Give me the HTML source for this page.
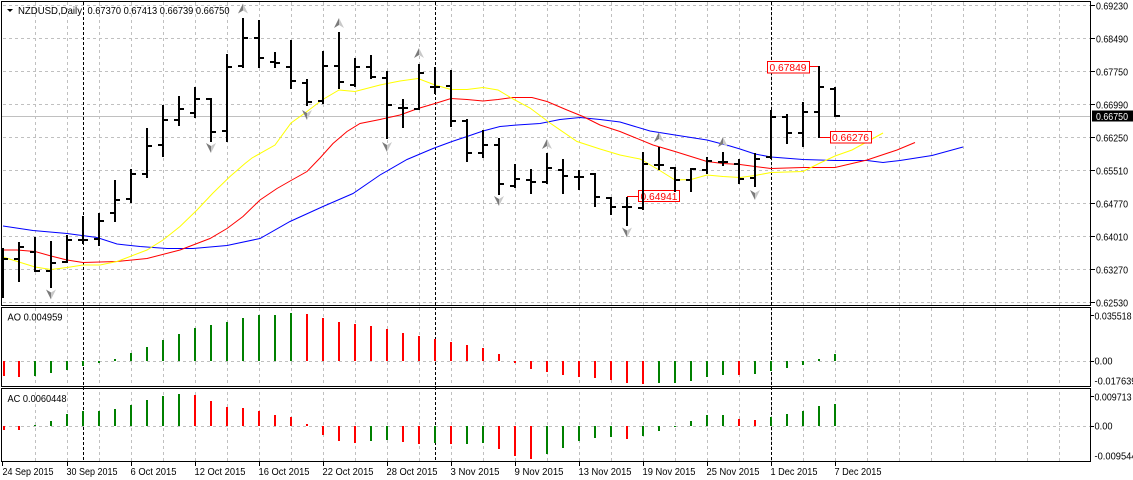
<!DOCTYPE html>
<html><head><meta charset="utf-8"><style>
html,body{margin:0;padding:0;background:#fff;width:1133px;height:480px;overflow:hidden}
svg{display:block}
text{font-family:"Liberation Sans",sans-serif;font-size:10.5px;fill:#000}
</style></head><body>
<svg width="1133" height="480" viewBox="0 0 1133 480" xmlns="http://www.w3.org/2000/svg">
<defs><clipPath id="cm"><rect x="2" y="2" width="1089" height="304"/></clipPath></defs>
<rect width="1133" height="480" fill="#fff"/>
<!-- horizontal grid main -->
<path stroke="#c0c0c0" stroke-width="1" stroke-dasharray="3,3" fill="none" d="M3 5.5H1090M3 38.5H1090M3 71.5H1090M3 104.5H1090M3 137.5H1090M3 170.5H1090M3 203.5H1090M3 236.5H1090M3 269.5H1090M3 302.5H1090M3 361.5H1090M3 426.5H1090"/>
<!-- vertical grid -->
<path stroke="#c0c0c0" stroke-width="1" stroke-dasharray="3,3" fill="none" d="M35.5 2V461M67.5 2V461M99.5 2V461M131.5 2V461M163.5 2V461M195.5 2V461M227.5 2V461M259.5 2V461M291.5 2V461M323.5 2V461M355.5 2V461M387.5 2V461M419.5 2V461M451.5 2V461M483.5 2V461M515.5 2V461M547.5 2V461M579.5 2V461M611.5 2V461M643.5 2V461M675.5 2V461M707.5 2V461M739.5 2V461M771.5 2V461M803.5 2V461M835.5 2V461M867.5 2V461M899.5 2V461M931.5 2V461M963.5 2V461M995.5 2V461M1027.5 2V461M1059.5 2V461"/>
<rect x="2" y="306" width="1089" height="2" fill="#fff"/>
<rect x="2" y="387" width="1089" height="2" fill="#fff"/>
<!-- separators -->
<path stroke="#000" stroke-width="1" stroke-dasharray="3,2" fill="none" d="M83.5 2V462M435.5 2V462M771.5 2V462"/>
<!-- current price line -->
<path stroke="#c0c0c0" stroke-width="1" d="M2 116.5H1091"/>
<g clip-path="url(#cm)">
<!-- MAs -->
<polyline fill="none" stroke="#0000ff" stroke-width="1" points="3,226 33,230.5 67,233.5 97,237.5 117,244 140,246.5 167,248.5 193,248.5 227,245.5 260,238.5 290,221.5 323,206.5 353,193.5 380,175 407,159.5 433,148.5 452,141.5 467,136.5 483,131 500,126.5 517,125 540,123.5 560,119.5 580,117.5 600,119.5 620,122 650,131 675,135 707,140 730,146 740,149 755,154 771,157 803,159.5 835,160.5 867,160.5 883,162.5 900,160.5 932,155.5 963,147"/>
<polyline fill="none" stroke="#ff0000" stroke-width="1" points="3,250 17,250 35,251.5 51,256 67,260 83,262.5 117,261.5 147,258.5 180,250 210,238.5 227,228.5 243,216.5 260,200 277,188.5 291,180.5 307,171.5 320,158 333,143.5 347,131.5 360,123.5 380,119.5 400,115 418,108.5 435,103.5 451,98.5 467,99.5 483,101 498,99.5 513,97.5 532,97.5 547,101.5 567,110 583,116.5 600,125 620,131.5 653,145 675,151.5 691,156.5 707,161.5 723,163.5 740,164.5 755,166.5 771,168.5 803,167.5 835,167.5 867,160 897,150 915,142.5"/>
<polyline fill="none" stroke="#ffff00" stroke-width="1" points="3,257 35,267 51,269.5 67,267.5 83,265 100,265 117,261.5 147,250 163,240 180,226.5 197,210 213,193 230,176.5 245,163.5 252,158 275,145 291,123 307,111.5 322,100 339,90 355,91.5 380,85 400,81 418,78.5 435,85 451,89.5 467,89.5 483,87.5 498,90 513,99 530,108 550,123 577,141.5 600,149 620,155 640,159 659,170 675,180 691,179.5 707,175 723,176.5 740,177.5 755,175.5 771,172.5 803,171.5 820,163 835,156 852,150 883,133"/>
<!-- price tags -->
<path stroke="#ff0000" stroke-width="1" d="M627 196.5H639M809 66.5H819M820 137.5H830"/>
<rect x="638.5" y="190.5" width="41" height="11" fill="#fff" stroke="#ff0000"/>
<text x="640.5" y="200" textLength="37" lengthAdjust="spacingAndGlyphs" style="fill:#ff0000">0.64941</text>
<rect x="767.5" y="61.5" width="42" height="11.5" fill="#fff" stroke="#ff0000"/>
<text x="769.5" y="71" textLength="37" lengthAdjust="spacingAndGlyphs" style="fill:#ff0000">0.67849</text>
<rect x="830.5" y="131.5" width="41" height="11.5" fill="#fff" stroke="#ff0000"/>
<text x="832" y="141" textLength="37" lengthAdjust="spacingAndGlyphs" style="fill:#ff0000">0.66276</text>
<!-- bars -->
<path fill="none" stroke="#000" stroke-width="2" d="M3 248V298M-2 255H4M2 259H8
M19 242V282M14 259H20M18 247H24
M35 237V272M30 252H36M34 271H40
M51 241V288M46 271H52M50 263H56
M67 235V263M62 262H68M66 240H72
M83 216V244M78 240H84M82 240H88
M99 213V246M94 239H100M98 221H104
M115 180V222M110 213H116M114 200H120
M131 169V203M126 199H132M130 174H136
M147 128V178M142 174H148M146 146H152
M163 105V157M158 145H164M162 120H168
M179 96V126M174 120H180M178 109H184
M195 87V118M190 113H196M194 99H200
M211 98V142M206 99H212M210 132H216
M227 54V142M222 131H228M226 67H232
M243 18V68M238 66H244M242 38H248
M259 20V68M254 38H260M258 58H264
M275 52V68M270 62H276M274 63H280
M291 40V89M286 67H292M290 81H296
M307 79V106M302 83H308M306 102H312
M323 51V104M318 101H324M322 66H328
M339 32V89M334 66H340M338 82H344
M355 58V87M350 85H356M354 67H360
M371 55V79M366 67H372M370 77H376
M387 71V139M382 78H388M386 105H392
M403 99V128M398 108H404M402 108H408
M419 64V110M414 109H420M418 73H424
M435 67V94M430 87H436M434 87H440
M451 70V127M446 86H452M450 121H456
M467 119V162M462 121H468M466 153H472
M483 130V158M478 153H484M482 145H488
M499 138V195M494 145H500M498 184H504
M515 164V188M510 186H516M514 179H520
M531 169V194M526 180H532M530 182H536
M547 153V184M542 182H548M546 168H552
M563 159V194M558 170H564M562 176H568
M579 170V190M574 177H580M578 177H584
M595 173V207M590 174H596M594 197H600
M611 197V215M606 198H612M610 207H616
M627 197V226M622 207H628M626 207H632
M643 152V210M638 208H644M642 164H648
M659 147V170M654 165H660M658 165H664
M675 167V192M670 168H676M674 180H680
M691 168V192M686 180H692M690 169H696
M707 157V174M702 170H708M706 161H712
M723 152V166M718 162H724M722 162H728
M739 159V184M734 164H740M738 179H744
M755 153V187M750 178H756M754 159H760
M771 110V159M766 157H772M770 117H776
M787 114V144M782 117H788M786 133H792
M803 102V147M798 133H804M802 112H808
M819 66V138M814 112H820M818 87H824
M835 87V117M830 89H836M834 116H840"/>
<!-- fractals up -->
<g>
<path fill="#7a7a7a" d="M243 3.5L243 10.5L238 13.5Z"/><path fill="#c8c8c8" d="M243 3.5L248 13.5L243 10.5Z"/>
<path fill="#7a7a7a" d="M339 18L339 25L334 28Z"/><path fill="#c8c8c8" d="M339 18L344 28L339 25Z"/>
<path fill="#7a7a7a" d="M419 48L419 55L414 58Z"/><path fill="#c8c8c8" d="M419 48L424 58L419 55Z"/>
<path fill="#7a7a7a" d="M547 139L547 146L542 149Z"/><path fill="#c8c8c8" d="M547 139L552 149L547 146Z"/>
<path fill="#7a7a7a" d="M659 132L659 139L654 142Z"/><path fill="#c8c8c8" d="M659 132L664 142L659 139Z"/>
<path fill="#7a7a7a" d="M723 137L723 144L718 147Z"/><path fill="#c8c8c8" d="M723 137L728 147L723 144Z"/>
</g>
<!-- fractals down -->
<g>
<path fill="#7a7a7a" d="M211 153L211 146L206 143Z"/><path fill="#c8c8c8" d="M211 153L216 143L211 146Z"/>
<path fill="#7a7a7a" d="M307 120L307 113L302 110Z"/><path fill="#c8c8c8" d="M307 120L312 110L307 113Z"/>
<path fill="#7a7a7a" d="M51 299.5L51 292.5L46 289.5Z"/><path fill="#c8c8c8" d="M51 299.5L56 289.5L51 292.5Z"/>
<path fill="#7a7a7a" d="M387 152L387 145L382 142Z"/><path fill="#c8c8c8" d="M387 152L392 142L387 145Z"/>
<path fill="#7a7a7a" d="M499 206L499 199L494 196Z"/><path fill="#c8c8c8" d="M499 206L504 196L499 199Z"/>
<path fill="#7a7a7a" d="M627 237.5L627 230.5L622 227.5Z"/><path fill="#c8c8c8" d="M627 237.5L632 227.5L627 230.5Z"/>
<path fill="#7a7a7a" d="M755 200L755 193L750 190Z"/><path fill="#c8c8c8" d="M755 200L760 190L755 193Z"/>
</g>
</g>
<!-- AO histogram -->
<g fill="#008000">
<rect x="34" y="361" width="2" height="15"/><rect x="50" y="361" width="2" height="12"/><rect x="66" y="361" width="2" height="9"/><rect x="82" y="361" width="2" height="5"/><rect x="98" y="361" width="2" height="2"/><rect x="114" y="359" width="2" height="2"/><rect x="130" y="353" width="2" height="8"/><rect x="146" y="347" width="2" height="14"/><rect x="162" y="340" width="2" height="21"/><rect x="178" y="334" width="2" height="27"/><rect x="194" y="328" width="2" height="33"/><rect x="210" y="325" width="2" height="36"/><rect x="226" y="322" width="2" height="39"/><rect x="242" y="318" width="2" height="43"/><rect x="258" y="315" width="2" height="46"/><rect x="274" y="315" width="2" height="46"/><rect x="290" y="313" width="2" height="48"/>
<rect x="658" y="361" width="2" height="22"/><rect x="674" y="361" width="2" height="22"/><rect x="690" y="361" width="2" height="20"/><rect x="706" y="361" width="2" height="16"/><rect x="722" y="361" width="2" height="14"/><rect x="754" y="361" width="2" height="13"/><rect x="770" y="361" width="2" height="10"/><rect x="786" y="361" width="2" height="7"/><rect x="802" y="361" width="2" height="4"/><rect x="818" y="359" width="2" height="2"/><rect x="834" y="354" width="2" height="7"/>
</g>
<g fill="#ff0000">
<rect x="3" y="361" width="2" height="15"/><rect x="18" y="361" width="2" height="16"/>
<rect x="306" y="314" width="2" height="47"/><rect x="322" y="318" width="2" height="43"/><rect x="338" y="322" width="2" height="39"/><rect x="354" y="324" width="2" height="37"/><rect x="370" y="326" width="2" height="35"/><rect x="386" y="329" width="2" height="32"/><rect x="402" y="333" width="2" height="28"/><rect x="418" y="336" width="2" height="25"/><rect x="434" y="339" width="2" height="22"/><rect x="450" y="342" width="2" height="19"/><rect x="466" y="345" width="2" height="16"/><rect x="482" y="348" width="2" height="13"/><rect x="498" y="354" width="2" height="7"/>
<rect x="514" y="361" width="2" height="2"/><rect x="530" y="361" width="2" height="8"/><rect x="546" y="361" width="2" height="11"/><rect x="562" y="361" width="2" height="14"/><rect x="578" y="361" width="2" height="16"/><rect x="594" y="361" width="2" height="17"/><rect x="610" y="361" width="2" height="19"/><rect x="626" y="361" width="2" height="22"/><rect x="642" y="361" width="2" height="23"/><rect x="738" y="361" width="2" height="14"/>
</g>
<!-- AC histogram -->
<g fill="#008000">
<rect x="34" y="425" width="2" height="1"/><rect x="50" y="421" width="2" height="5"/><rect x="66" y="414" width="2" height="12"/><rect x="82" y="411" width="2" height="15"/><rect x="98" y="411" width="2" height="15"/><rect x="114" y="409" width="2" height="17"/><rect x="130" y="405" width="2" height="21"/><rect x="146" y="400" width="2" height="26"/><rect x="162" y="396" width="2" height="30"/><rect x="178" y="394" width="2" height="32"/>
<rect x="370" y="426" width="2" height="15"/><rect x="386" y="426" width="2" height="14"/><rect x="434" y="426" width="2" height="17"/><rect x="466" y="426" width="2" height="18"/><rect x="482" y="426" width="2" height="17"/>
<rect x="546" y="426" width="2" height="28"/><rect x="562" y="426" width="2" height="22"/><rect x="578" y="426" width="2" height="15"/><rect x="594" y="426" width="2" height="12"/><rect x="610" y="426" width="2" height="11"/><rect x="642" y="426" width="2" height="10"/><rect x="658" y="426" width="2" height="5"/><rect x="674" y="426" width="2" height="1"/>
<rect x="690" y="421" width="2" height="5"/><rect x="706" y="415" width="2" height="11"/><rect x="722" y="415" width="2" height="11"/><rect x="770" y="417" width="2" height="9"/><rect x="786" y="414" width="2" height="12"/><rect x="802" y="411" width="2" height="15"/><rect x="818" y="406" width="2" height="20"/><rect x="834" y="404" width="2" height="22"/>
</g>
<g fill="#ff0000">
<rect x="3" y="426" width="2" height="4"/><rect x="18" y="426" width="2" height="4"/>
<rect x="194" y="395" width="2" height="31"/><rect x="210" y="401" width="2" height="25"/><rect x="226" y="407" width="2" height="19"/><rect x="242" y="408" width="2" height="18"/><rect x="258" y="411" width="2" height="15"/><rect x="274" y="415" width="2" height="11"/><rect x="290" y="417" width="2" height="9"/><rect x="306" y="424" width="2" height="2"/>
<rect x="322" y="426" width="2" height="9"/><rect x="338" y="426" width="2" height="15"/><rect x="354" y="426" width="2" height="17"/><rect x="402" y="426" width="2" height="16"/><rect x="418" y="426" width="2" height="18"/><rect x="450" y="426" width="2" height="18"/><rect x="498" y="426" width="2" height="23"/><rect x="514" y="426" width="2" height="30"/><rect x="530" y="426" width="2" height="33"/><rect x="626" y="426" width="2" height="13"/>
<rect x="738" y="419" width="2" height="7"/><rect x="754" y="420" width="2" height="6"/>
</g>
<!-- pane borders -->
<g fill="none" stroke="#000" stroke-width="1">
<rect x="1.5" y="1.5" width="1089" height="304"/>
<rect x="1.5" y="307.5" width="1089" height="79"/>
<rect x="1.5" y="388.5" width="1089" height="73"/>
</g>
<!-- axis ticks -->
<path stroke="#000" stroke-width="1" d="M1091 5.5H1095M1091 38.5H1095M1091 71.5H1095M1091 104.5H1095M1091 137.5H1095M1091 170.5H1095M1091 203.5H1095M1091 236.5H1095M1091 269.5H1095M1091 302.5H1095M1091 315.5H1094M1091 361.5H1094M1091 396.5H1094M1091 426.5H1094
M2.5 462V466M67.5 462V466M131.5 462V466M195.5 462V466M259.5 462V466M323.5 462V466M387.5 462V466M451.5 462V466M515.5 462V466M579.5 462V466M643.5 462V466M707.5 462V466M771.5 462V466M835.5 462V466"/>
<!-- title -->
<path d="M7 9H13L10 12Z" fill="#000"/>
<text x="18" y="14" textLength="64" lengthAdjust="spacingAndGlyphs">NZDUSD,Daily</text>
<text x="87.5" y="14" textLength="142" lengthAdjust="spacingAndGlyphs">0.67370 0.67413 0.66739 0.66750</text>
<text x="7.5" y="320.5" textLength="55" lengthAdjust="spacingAndGlyphs">AO 0.004959</text>
<text x="7.5" y="402" textLength="59" lengthAdjust="spacingAndGlyphs">AC 0.0060448</text>
<!-- price axis labels -->
<g>
<text x="1096" y="9.5" textLength="32" lengthAdjust="spacingAndGlyphs">0.69230</text>
<text x="1096" y="42.5" textLength="32" lengthAdjust="spacingAndGlyphs">0.68490</text>
<text x="1096" y="75.5" textLength="32" lengthAdjust="spacingAndGlyphs">0.67750</text>
<text x="1096" y="108.5" textLength="32" lengthAdjust="spacingAndGlyphs">0.66990</text>
<text x="1096" y="141.5" textLength="32" lengthAdjust="spacingAndGlyphs">0.66250</text>
<text x="1096" y="174.5" textLength="32" lengthAdjust="spacingAndGlyphs">0.65510</text>
<text x="1096" y="207.5" textLength="32" lengthAdjust="spacingAndGlyphs">0.64770</text>
<text x="1096" y="240.5" textLength="32" lengthAdjust="spacingAndGlyphs">0.64010</text>
<text x="1096" y="273.5" textLength="32" lengthAdjust="spacingAndGlyphs">0.63270</text>
<text x="1096" y="306.5" textLength="32" lengthAdjust="spacingAndGlyphs">0.62530</text>
</g>
<rect x="1092" y="110.5" width="41" height="11" fill="#000"/>
<text x="1096" y="120" textLength="32" lengthAdjust="spacingAndGlyphs" style="fill:#fff">0.66750</text>
<!-- sub axis labels -->
<text x="1094.5" y="319.5" textLength="37" lengthAdjust="spacingAndGlyphs">0.035518</text>
<text x="1094.5" y="364.5" textLength="18" lengthAdjust="spacingAndGlyphs">0.00</text>
<text x="1094.5" y="384.5" textLength="42" lengthAdjust="spacingAndGlyphs">-0.017639</text>
<text x="1094.5" y="400.5" textLength="37" lengthAdjust="spacingAndGlyphs">0.009713</text>
<text x="1094.5" y="429.5" textLength="18" lengthAdjust="spacingAndGlyphs">0.00</text>
<text x="1094.5" y="459.5" textLength="42" lengthAdjust="spacingAndGlyphs">-0.009544</text>
<!-- date labels -->
<g>
<text x="2.5" y="475" textLength="51" lengthAdjust="spacingAndGlyphs">24 Sep 2015</text>
<text x="66.5" y="475" textLength="51" lengthAdjust="spacingAndGlyphs">30 Sep 2015</text>
<text x="130.5" y="475" textLength="46" lengthAdjust="spacingAndGlyphs">6 Oct 2015</text>
<text x="194.5" y="475" textLength="51" lengthAdjust="spacingAndGlyphs">12 Oct 2015</text>
<text x="258.5" y="475" textLength="51" lengthAdjust="spacingAndGlyphs">16 Oct 2015</text>
<text x="322.5" y="475" textLength="51" lengthAdjust="spacingAndGlyphs">22 Oct 2015</text>
<text x="386.5" y="475" textLength="51" lengthAdjust="spacingAndGlyphs">28 Oct 2015</text>
<text x="450.5" y="475" textLength="49" lengthAdjust="spacingAndGlyphs">3 Nov 2015</text>
<text x="514.5" y="475" textLength="49" lengthAdjust="spacingAndGlyphs">9 Nov 2015</text>
<text x="578.5" y="475" textLength="53" lengthAdjust="spacingAndGlyphs">13 Nov 2015</text>
<text x="642.5" y="475" textLength="53" lengthAdjust="spacingAndGlyphs">19 Nov 2015</text>
<text x="706.5" y="475" textLength="53" lengthAdjust="spacingAndGlyphs">25 Nov 2015</text>
<text x="770.5" y="475" textLength="47" lengthAdjust="spacingAndGlyphs">1 Dec 2015</text>
<text x="834.5" y="475" textLength="47" lengthAdjust="spacingAndGlyphs">7 Dec 2015</text>
</g>
</svg>
</body></html>
